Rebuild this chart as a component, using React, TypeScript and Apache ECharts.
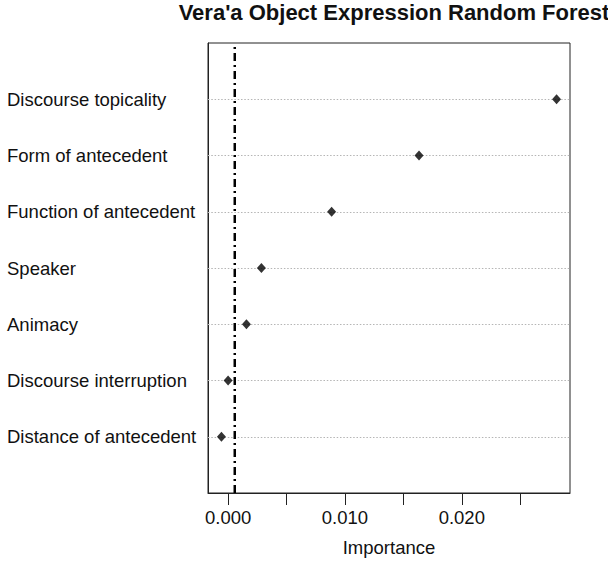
import React, { useEffect, useRef } from "react";
import * as echarts from "echarts";

const titleText = "Vera'a Object Expression Random Forest";
const axisTitle = "Importance";
const categories = [
  "Discourse topicality",
  "Form of antecedent",
  "Function of antecedent",
  "Speaker",
  "Animacy",
  "Discourse interruption",
  "Distance of antecedent",
];
const importance = [0.02811, 0.01634, 0.00886, 0.00285, 0.00157, 0.0, -0.00057];
const cutoff = 0.00057;
const xMin = -0.00172;
const xMax = 0.02926;
const xTickValues = [0, 0.005, 0.01, 0.015, 0.02, 0.025];
const xLabelValues = [0, 0.01, 0.02];

const FONT = "'Liberation Sans', Arial, Helvetica, sans-serif";

export default function App() {
  const ref = useRef<HTMLDivElement>(null);
  useEffect(() => {
    if (!ref.current) return;
    const chart = echarts.init(ref.current, null, { renderer: "svg" });
    const n = categories.length;
    const rows = categories.map((_, i) => n - i);
    const option = {
      animation: false,
      backgroundColor: "#ffffff",
      textStyle: { fontFamily: FONT },
      title: {
        text: titleText,
        left: 389,
        textAlign: "center",
        top: -4,
        textStyle: { fontFamily: FONT, fontSize: 22, fontWeight: "bold", color: "#111" },
      },
      grid: {
        left: 208,
        top: 43,
        width: 362,
        height: 453,
        containLabel: false,
        show: true,
        borderColor: "#222",
        borderWidth: 1,
        backgroundColor: "transparent",
      },
      xAxis: {
        type: "value",
        min: xMin,
        max: xMax,
        name: axisTitle,
        nameLocation: "middle",
        nameGap: 45,
        nameTextStyle: { fontFamily: FONT, fontSize: 18.5, color: "#111", verticalAlign: "top" },
        axisLine: { show: true, onZero: false, lineStyle: { color: "#222", width: 1 } },
        axisTick: {
          show: true,
          inside: false,
          length: 12,
          customValues: xTickValues,
          lineStyle: { color: "#222", width: 1 },
        },
        axisLabel: {
          show: true,
          customValues: xLabelValues,
          formatter: (v: number) => v.toFixed(3),
          fontFamily: FONT,
          fontSize: 18.5,
          color: "#111",
          margin: 15,
        },
        splitLine: { show: false },
      },
      yAxis: {
        type: "value",
        min: 0,
        max: n + 1,
        axisLine: { show: true, onZero: false, lineStyle: { color: "#222", width: 1 } },
        axisTick: { show: false },
        splitLine: { show: false },
        axisLabel: {
          show: true,
          customValues: rows,
          formatter: (v: number) => categories[n - v] ?? "",
          fontFamily: FONT,
          fontSize: 18.5,
          color: "#111",
          align: "left",
          margin: 201,
        },
      },
      series: [
        {
          type: "scatter",
          z: 3,
          symbol: "diamond",
          symbolSize: [9, 10],
          itemStyle: { color: "#000" },
          data: importance.map((v, i) => [v, rows[i]]),
          markLine: {
            z: 1,
            silent: true,
            symbol: ["none", "none"],
            label: { show: false },
            lineStyle: { color: "#b5b5b5", width: 1.2, type: [1.5, 1.8] },
            data: rows.map((r) => ({ yAxis: r })),
          },
        },
        {
          type: "line",
          z: 4,
          symbol: "none",
          silent: true,
          lineStyle: { color: "#000", width: 2.5, type: [8, 4, 2, 4] },
          data: [
            [cutoff, 0],
            [cutoff, n + 1],
          ],
        },
      ],
    };
    chart.setOption(option as any);
    return () => chart.dispose();
  }, []);
  return (
    <div
      ref={ref}
      style={{ position: "absolute", left: 0, top: 0, width: 608, height: 562 }}
    />
  );
}
